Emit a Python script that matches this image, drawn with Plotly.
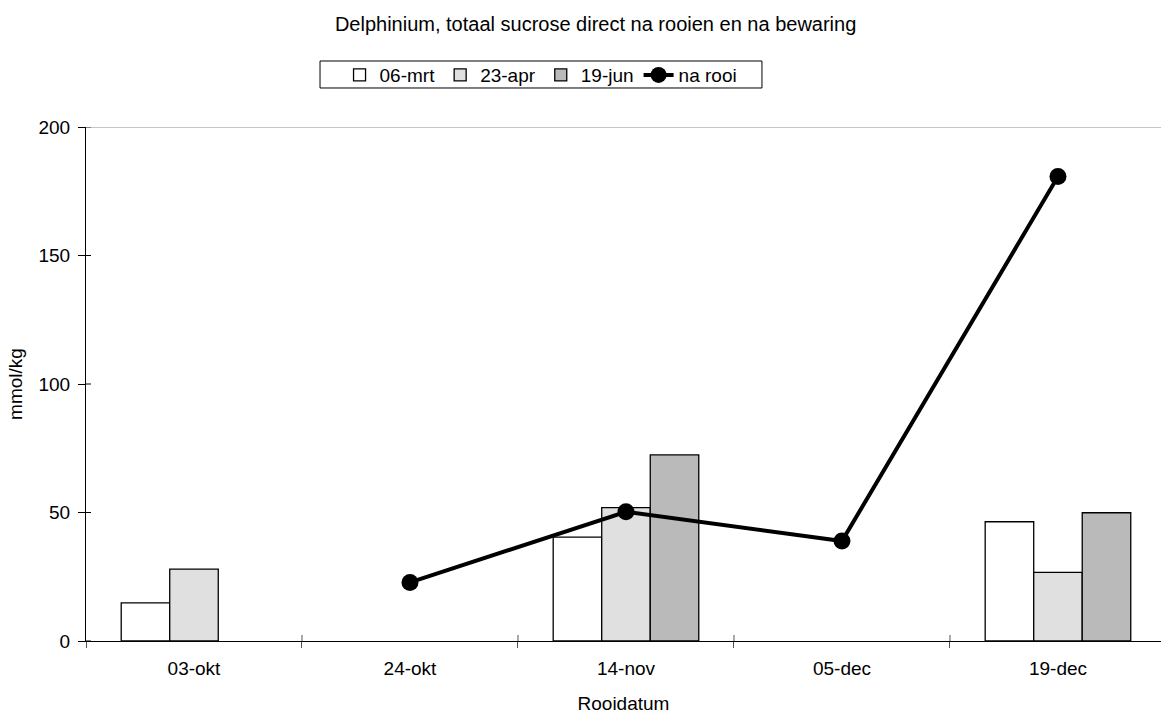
import plotly.graph_objects as go

# Rooidatum categories and sucrose contents (mmol/kg)
categories = ["03-okt", "24-okt", "14-nov", "05-dec", "19-dec"]
mrt_06 = [14.8, None, 40.4, None, 46.4]
apr_23 = [28.0, None, 51.9, None, 26.7]
jun_19 = [None, None, 72.4, None, 49.9]
na_rooi_x = ["24-okt", "14-nov", "05-dec", "19-dec"]
na_rooi = [22.8, 50.3, 38.9, 180.7]

y_ticks = [0, 50, 100, 150, 200]

FONT = "Arial, Liberation Sans, sans-serif"

fig = go.Figure()

fig.add_trace(go.Bar(
    x=categories, y=mrt_06, name="06-mrt",
    marker=dict(color="white", line=dict(color="black", width=1.3)),
))
fig.add_trace(go.Bar(
    x=categories, y=apr_23, name="23-apr",
    marker=dict(
        color="#efefef", line=dict(color="black", width=1.3),
        pattern=dict(shape=".", fgcolor="#c4c4c4", bgcolor="#f6f6f6",
                     size=2, solidity=0.5, fillmode="replace"),
    ),
))
fig.add_trace(go.Bar(
    x=categories, y=jun_19, name="19-jun",
    marker=dict(
        color="#c2c2c2", line=dict(color="black", width=1.3),
        pattern=dict(shape=".", fgcolor="#9c9c9c", bgcolor="#d2d2d2",
                     size=2, solidity=0.5, fillmode="replace"),
    ),
))
fig.add_trace(go.Scatter(
    x=na_rooi_x, y=na_rooi, name="na rooi", mode="lines+markers",
    line=dict(color="black", width=4),
    marker=dict(color="black", size=17, symbol="circle"),
))

# inner halves of the crossing tick marks
shapes = []
for v in y_ticks:
    shapes.append(dict(type="line", xref="paper", xsizemode="pixel", xanchor=0,
                       x0=0, x1=5, yref="y", y0=v, y1=v,
                       line=dict(color="black", width=1)))
for b in [0.5, 1.5, 2.5, 3.5]:
    shapes.append(dict(type="line", xref="x", x0=b, x1=b, yref="y",
                       ysizemode="pixel", yanchor=0, y0=0, y1=6,
                       line=dict(color="#555555", width=1)))
# top border line at the axis maximum
shapes.append(dict(type="line", xref="paper", x0=0, x1=1, yref="y",
                   y0=200, y1=200, line=dict(color="#8c8c8c", width=1)))
# legend frame
shapes.append(dict(type="rect", xref="paper", yref="paper",
                   x0=0.2177, x1=0.6288, y0=1.0759, y1=1.1284,
                   line=dict(color="black", width=1), fillcolor="rgba(0,0,0,0)"))

fig.update_layout(
    width=1161, height=715,
    margin=dict(l=86, r=0, t=127, b=74),
    paper_bgcolor="white", plot_bgcolor="white",
    font=dict(family=FONT, size=19, color="black"),
    title=dict(text="Delphinium, totaal sucrose direct na rooien en na bewaring",
               x=0.513, xanchor="center", y=0.967, yanchor="middle",
               font=dict(size=20)),
    barmode="group", bargap=0.326, bargroupgap=0,
    showlegend=True,
    legend=dict(orientation="h", x=0.4233, xanchor="center", y=1.101, yanchor="middle",
                borderwidth=0, bgcolor="rgba(0,0,0,0)",
                font=dict(size=19), itemwidth=30, traceorder="normal",
                tracegroupgap=0),
    shapes=shapes,
    xaxis=dict(
        type="category", categoryorder="array", categoryarray=categories,
        range=[-0.5, 4.477], tickson="boundaries",
        ticks="outside", ticklen=6, tickcolor="#555555",
        ticklabelstandoff=10,
        showline=True, linecolor="black", linewidth=1,
        showgrid=False, zeroline=False,
        title=dict(text="Rooidatum", standoff=18, font=dict(size=19)),
    ),
    yaxis=dict(
        range=[0, 200], tickvals=y_ticks,
        ticks="outside", ticklen=7, tickcolor="black",
        ticklabelstandoff=4,
        showline=True, linecolor="black", linewidth=1,
        showgrid=False, zeroline=False,
        title=dict(text="mmol/kg", standoff=10, font=dict(size=19)),
    ),
)

fig.write_html("out.html")
